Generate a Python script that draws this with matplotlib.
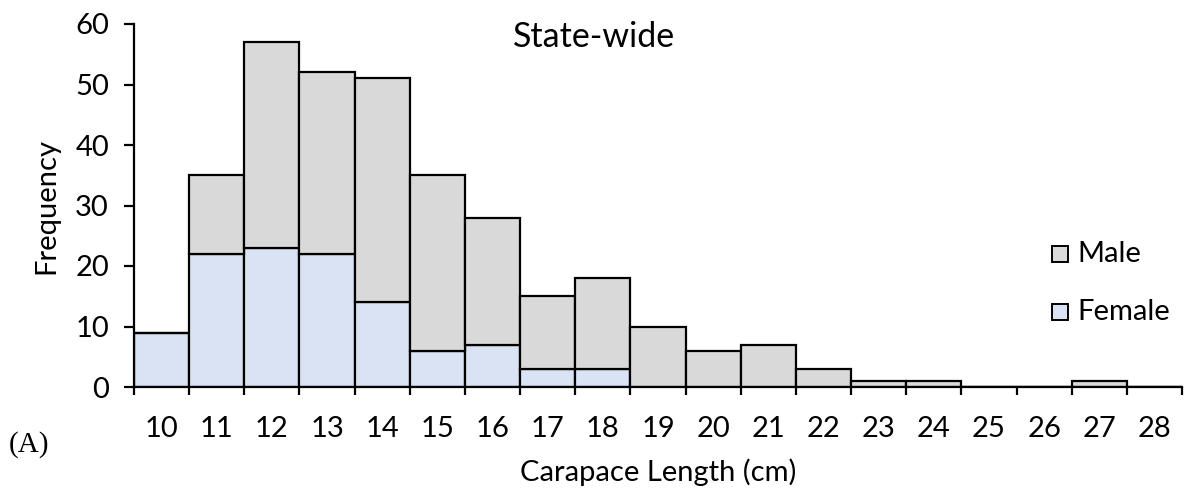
import matplotlib
matplotlib.use("Agg")
import matplotlib.pyplot as plt
from matplotlib.patches import Rectangle
import numpy as np

# Carapace length classes (cm) and counts per sex
lengths = [10, 11, 12, 13, 14, 15, 16, 17, 18, 19, 20, 21, 22, 23, 24, 25, 26, 27, 28]
female = [9, 22, 23, 22, 14, 6, 7, 3, 3, 0, 0, 0, 0, 0, 0, 0, 0, 0, 0]
total = [9, 35, 57, 52, 51, 35, 28, 15, 18, 10, 6, 7, 3, 1, 1, 0, 0, 1, 0]
male = [t - f for t, f in zip(total, female)]

male_color = "#D9D9D9"
female_color = "#DAE3F3"
font = "Lato"
fs = 21

fig = plt.figure(figsize=(11.86, 4.91), dpi=100)
ax = fig.add_axes([134 / 1186, 1 - 387 / 491, (1182 - 134) / 1186, (387 - 24) / 491])

pos = np.arange(len(lengths))
lw = 1.6
ax.bar(pos, female, width=1.0, align="edge", color=female_color,
       edgecolor="black", linewidth=lw, zorder=2)
ax.bar(pos, male, width=1.0, align="edge", bottom=female, color=male_color,
       edgecolor="black", linewidth=lw, zorder=2)

ax.set_xlim(0, len(lengths))
ax.set_ylim(0, 60)

for s in ["top", "right"]:
    ax.spines[s].set_visible(False)
for s in ["left", "bottom"]:
    ax.spines[s].set_linewidth(1.6)
    ax.spines[s].set_zorder(3)

ax.set_yticks(range(0, 61, 10))
ax.tick_params(axis="y", direction="out", length=7, width=1.6, pad=11,
               labelsize=fs, labelfontfamily=font)

ax.set_xticks(np.arange(len(lengths) + 1))
ax.set_xticklabels([])
ax.set_xticks(pos + 0.5, minor=True)
ax.set_xticklabels([str(v) for v in lengths], minor=True)
ax.tick_params(axis="x", which="major", direction="out", length=6, width=1.6)
ax.tick_params(axis="x", which="minor", length=0, pad=21,
               labelsize=fs, labelfontfamily=font)

ax.set_ylabel("Frequency", fontsize=fs, fontfamily=font, labelpad=11)
ax.set_xlabel("Carapace Length (cm)", fontsize=fs, fontfamily=font, labelpad=12)

ax.text((594 - 134) / 1048, (387 - 37) / 363, "State-wide", transform=ax.transAxes,
        ha="center", va="center", fontsize=24.5, fontfamily=font)

# Legend entries drawn as square swatches with labels
for ypx, label, col in [(254, "Male", male_color), (312, "Female", female_color)]:
    fig.patches.append(Rectangle((1052 / 1186, 1 - (ypx + 8) / 491), 16 / 1186, 16 / 491,
                                 transform=fig.transFigure, facecolor=col,
                                 edgecolor="black", linewidth=1.4))
    fig.text(1077 / 1186, 1 - ypx / 491, label, ha="left", va="center",
             fontsize=fs, fontfamily=font)

fig.text(9 / 1186, 1 - 445 / 491, "(A)", ha="left", va="center",
         fontsize=21, fontfamily="Liberation Serif")

fig.savefig("out.png", dpi=100)
